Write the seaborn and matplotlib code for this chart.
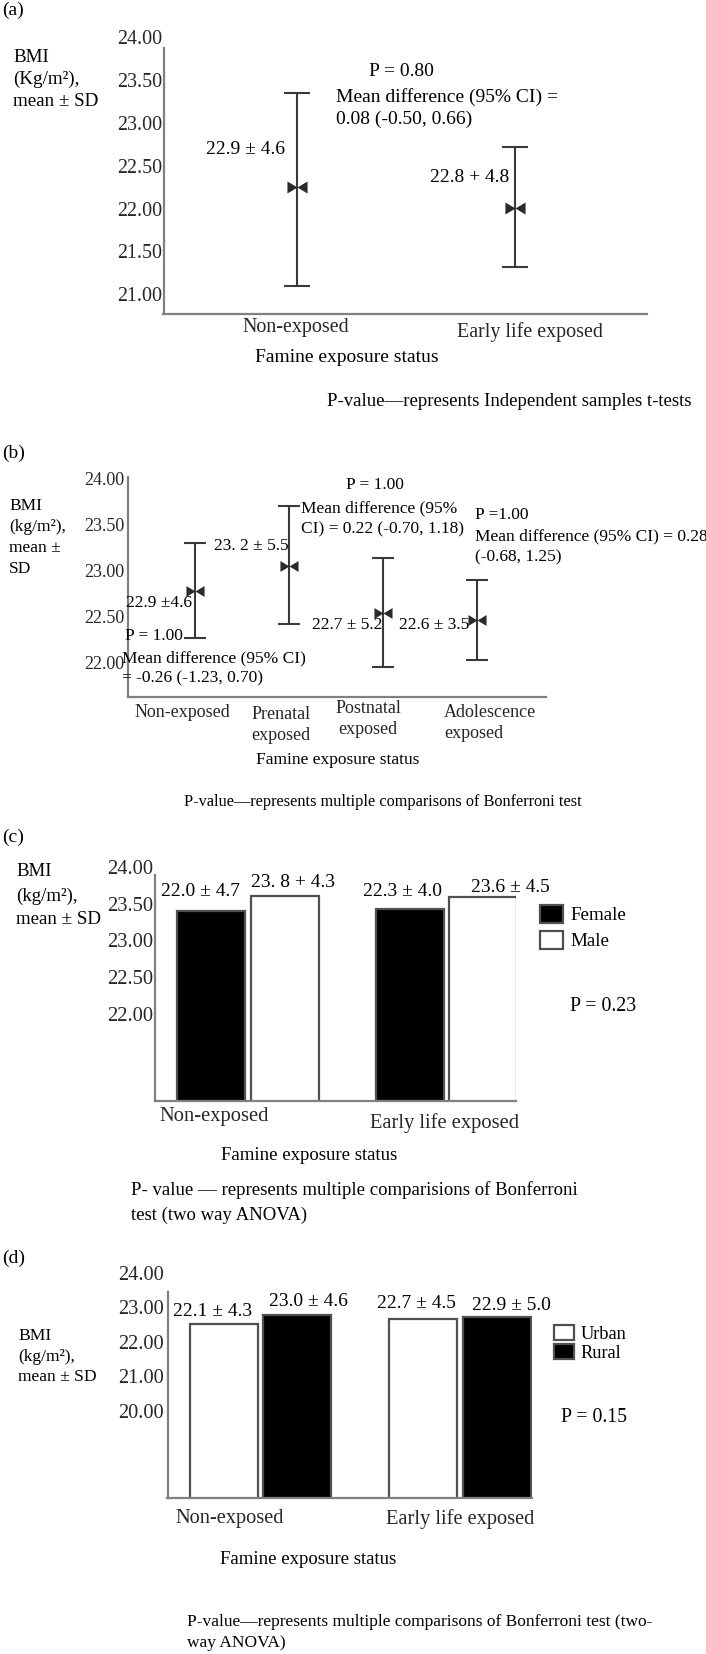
import numpy as np
import pandas as pd
import matplotlib
matplotlib.use('Agg')
import matplotlib.pyplot as plt
import seaborn as sns
from matplotlib.path import Path
from matplotlib.patches import Patch
from matplotlib.transforms import ScaledTranslation

W, H = 706, 1654

# (a) independent samples t-test, mean +/- SD bars
a_groups = ['Non-exposed', 'Early life exposed']
a_mean = np.array([22.25, 22.01])
a_low = np.array([21.10, 21.32])
a_high = np.array([23.35, 22.72])

# (b) four exposure groups
b_groups = ['Non-exposed', 'Prenatal\nexposed', 'Postnatal\nexposed', 'Adolescence\nexposed']
b_mean = np.array([22.78, 23.05, 22.54, 22.46])
b_low = np.array([22.26, 22.42, 21.95, 22.02])
b_high = np.array([23.30, 23.70, 23.14, 22.90])

# (c) by sex
c_groups = ['Non-exposed', 'Early life exposed']
c_female = [23.40, 23.43]
c_male = [23.61, 23.59]

# (d) by residence
d_groups = ['Non-exposed', 'Early life exposed']
d_urban = [22.51, 22.65]
d_rural = [22.78, 22.71]

sns.set_style('white')
plt.rcParams['font.family'] = ['Liberation Serif', 'DejaVu Serif']
plt.rcParams['text.color'] = 'black'

fig = plt.figure(figsize=(W / 100, H / 100), dpi=100)

AXIS_COLOR = '#808080'
LINE_COLOR = '#3a3a3a'

# bowtie marker (two triangles pointing inward)
bowtie = Path([(-1, -0.6), (-1, 0.6), (0, 0), (-1, -0.6),
               (1, -0.6), (1, 0.6), (0, 0), (1, -0.6)],
              [Path.MOVETO, Path.LINETO, Path.LINETO, Path.CLOSEPOLY,
               Path.MOVETO, Path.LINETO, Path.LINETO, Path.CLOSEPOLY])


def fx(x):
    return x / W


def fy(y):
    return 1 - y / H


def put(x, y, s, size=14, ha='left', va='center'):
    fig.text(fx(x), fy(y), s, fontsize=size, ha=ha, va=va)


def put_lines(x, ys, lines, size):
    for y, s in zip(ys, lines):
        put(x, y, s, size=size)


def make_axes(left, right, top, bottom):
    return fig.add_axes([fx(left), fy(bottom), (right - left) / W, (bottom - top) / H])


def style_axes(ax, ylim, yticks, spine_top, size, xpad, ypad):
    sns.despine(ax=ax)
    for side in ['left', 'bottom']:
        ax.spines[side].set_color(AXIS_COLOR)
        ax.spines[side].set_linewidth(1.6)
    ax.set_ylim(*ylim)
    ax.spines['left'].set_bounds(ylim[0], spine_top)
    ax.set_yticks(yticks)
    ax.yaxis.set_major_formatter('{x:.2f}')
    ax.tick_params(axis='both', length=0, labelsize=size)
    ax.tick_params(axis='x', pad=xpad)
    ax.tick_params(axis='y', pad=ypad)
    ax.set_xlabel('')
    ax.set_ylabel('')


def shift_labels(ax, shifts, aligns=None):
    labels = ax.get_xticklabels()
    for i, (lab, (dx, dy)) in enumerate(zip(labels, shifts)):
        lab.set_transform(lab.get_transform() + ScaledTranslation(dx / 100, -dy / 100, fig.dpi_scale_trans))
        if aligns is not None:
            lab.set_ha(aligns[i])
            lab.set_multialignment(aligns[i])


def whisker_plot(ax, groups, mean, low, high, capsize, msize):
    x = np.arange(len(groups))
    ax.errorbar(x, mean, yerr=[mean - low, high - mean], fmt='none', ecolor=LINE_COLOR,
                elinewidth=1.5, capsize=capsize, capthick=1.5, zorder=2)
    sns.scatterplot(x=x, y=mean, marker=bowtie, s=msize, color='#2a2a2a', linewidth=0, ax=ax, zorder=3)
    ax.set_xticks(x, groups)


# ---------------- (a) ----------------
ax_a = make_axes(163.5, 647, 37, 314)
whisker_plot(ax_a, a_groups, a_mean, a_low, a_high, capsize=9.7, msize=210)
ax_a.set_xlim(-0.612, 1.606)
style_axes(ax_a, (20.77, 24.0), np.arange(21.0, 24.01, 0.5), 23.87, 14.4, 3, 1)
shift_labels(ax_a, [(-1, 0), (15, 4)])

put(2, 10, '(a)', size=14)
put_lines(13, [57, 79, 102], ['BMI', '(Kg/m²),', 'mean ± SD'], 13.7)
put(401, 72, 'P = 0.80', ha='center')
put(336, 97, 'Mean difference (95% CI) =')
put(336, 119, '0.08 (-0.50, 0.66)')
put(285, 150, '22.9 ± 4.6', ha='right')
put(509, 177, '22.8 + 4.8', ha='right')
put(347, 357, 'Famine exposure status', ha='center')
put(327, 402, 'P-value\u2014represents Independent samples t-tests', size=13.5)

# ---------------- (b) ----------------
ax_b = make_axes(127.5, 546, 477, 697)
whisker_plot(ax_b, b_groups, b_mean, b_low, b_high, capsize=7.8, msize=170)
ax_b.set_xlim(-0.718, 3.73)
style_axes(ax_b, (21.62, 24.02), np.arange(22.0, 24.01, 0.5), 24.02, 13, 5, 2.5)
for lab in ax_b.get_xticklabels():
    lab.set_linespacing(1.3)
shift_labels(ax_b, [(-13, 0), (-8, 2), (-15, -4), (-33, 0)],
             aligns=['center', 'center', 'center', 'left'])

put(2, 453, '(b)', size=14)
put_lines(9, [506, 527, 548, 569], ['BMI', '(kg/m²),', 'mean ±', 'SD'], 12.5)
put(126, 603, '22.9 ±4.6', size=12.5)
put(125, 636, 'P = 1.00', size=12.5)
put(122, 658, 'Mean difference (95% CI)', size=12.5)
put(122, 678, '= -0.26 (-1.23, 0.70)', size=12.5)
put(214, 546, '23. 2 ± 5.5', size=12.5)
put(375, 485, 'P = 1.00', size=12.5, ha='center')
put(301, 508, 'Mean difference (95%', size=12.5)
put(301, 529, 'CI) = 0.22 (-0.70, 1.18)', size=12.5)
put(312, 625, '22.7 ± 5.2', size=12.5)
put(399, 625, '22.6 ± 3.5', size=12.5)
put(475, 515, 'P =1.00', size=12.5)
put(475, 536, 'Mean difference (95% CI) = 0.28', size=12.5)
put(475, 557, '(-0.68, 1.25)', size=12.5)
put(338, 760, 'Famine exposure status', size=12.5, ha='center')
put(383, 802, 'P-value\u2014represents multiple comparisons of Bonferroni test', size=11.7, ha='center')

# ---------------- (c) ----------------
c_df = pd.DataFrame({'status': c_groups * 2,
                     'sex': ['Female'] * len(c_groups) + ['Male'] * len(c_groups),
                     'bmi': c_female + c_male})
ax_c = make_axes(155, 516, 866.8, 1101)
sns.barplot(data=c_df, x='status', y='bmi', hue='sex', hue_order=['Female', 'Male'],
            palette=['black', 'white'], saturation=1, width=0.74, gap=0.075,
            edgecolor='#505050', linewidth=1.6, errorbar=None, legend=False, ax=ax_c)
ax_c.set_xlim(-0.467, 1.35)
style_axes(ax_c, (20.82, 24.0), np.arange(22.0, 24.01, 0.5), 23.89, 14.8, 4.3, 1.5)
shift_labels(ax_c, [(-34, 0), (-2, 6)])
ax_c.legend(handles=[Patch(facecolor='black', edgecolor='#505050', linewidth=1.6, label='Female'),
                     Patch(facecolor='white', edgecolor='#505050', linewidth=1.6, label='Male')],
            loc='upper left', bbox_to_anchor=(fx(540), fy(905)), bbox_transform=fig.transFigure,
            frameon=False, fontsize=13.7, handlelength=1.2, handleheight=1.05,
            handletextpad=0.4, labelspacing=0.35, borderpad=0, borderaxespad=0)

put(2, 837, '(c)', size=14)
put_lines(16, [872, 896, 919], ['BMI', '(kg/m²),', 'mean ± SD'], 13.6)
put(161, 892, '22.0 ± 4.7')
put(251, 882, '23. 8 + 4.3')
put(363, 892, '22.3 ± 4.0')
put(471, 887, '23.6 ± 4.5')
put(570, 1007, 'P = 0.23', size=14.3)
put(309, 1155, 'Famine exposure status', ha='center', size=13.5)
put_lines(131, [1190, 1215], ['P- value \u2014 represents multiple comparisions of Bonferroni',
                              'test (two way ANOVA)'], 13.5)

# ---------------- (d) ----------------
d_df = pd.DataFrame({'status': d_groups * 2,
                     'residence': ['Urban'] * len(d_groups) + ['Rural'] * len(d_groups),
                     'bmi': d_urban + d_rural})
ax_d = make_axes(167.5, 531.5, 1272.8, 1498)
sns.barplot(data=d_df, x='status', y='bmi', hue='residence', hue_order=['Urban', 'Rural'],
            palette=['white', 'black'], saturation=1, width=0.74, gap=0.075,
            edgecolor='#505050', linewidth=1.6, errorbar=None, legend=False, ax=ax_d)
ax_d.set_xlim(-0.467, 1.36)
style_axes(ax_d, (17.47, 24.0), [20, 21, 22, 23, 24], 23.44, 14.7, 8, 2.5)
shift_labels(ax_d, [(-31, 0), (0, 0)])
ax_d.legend(handles=[Patch(facecolor='white', edgecolor='#505050', linewidth=1.6, label='Urban'),
                     Patch(facecolor='black', edgecolor='#505050', linewidth=1.6, label='Rural')],
            loc='upper left', bbox_to_anchor=(fx(554), fy(1325)), bbox_transform=fig.transFigure,
            frameon=False, fontsize=13.2, handlelength=1.1, handleheight=0.85,
            handletextpad=0.35, labelspacing=0.1, borderpad=0, borderaxespad=0)

put(2, 1258, '(d)', size=14)
put_lines(18, [1336, 1357, 1377], ['BMI', '(kg/m²),', 'mean ± SD'], 12.6)
put(173, 1312, '22.1 ± 4.3')
put(269, 1301, '23.0 ± 4.6')
put(377, 1304, '22.7 ± 4.5')
put(472, 1306, '22.9 ± 5.0')
put(561, 1418, 'P = 0.15', size=14.3)
put(308, 1560, 'Famine exposure status', ha='center', size=13.5)
put_lines(187, [1622, 1643], ['P-value\u2014represents multiple comparisons of Bonferroni test (two-',
                              'way ANOVA)'], 12.5)

fig.savefig('out.png', dpi=100)
